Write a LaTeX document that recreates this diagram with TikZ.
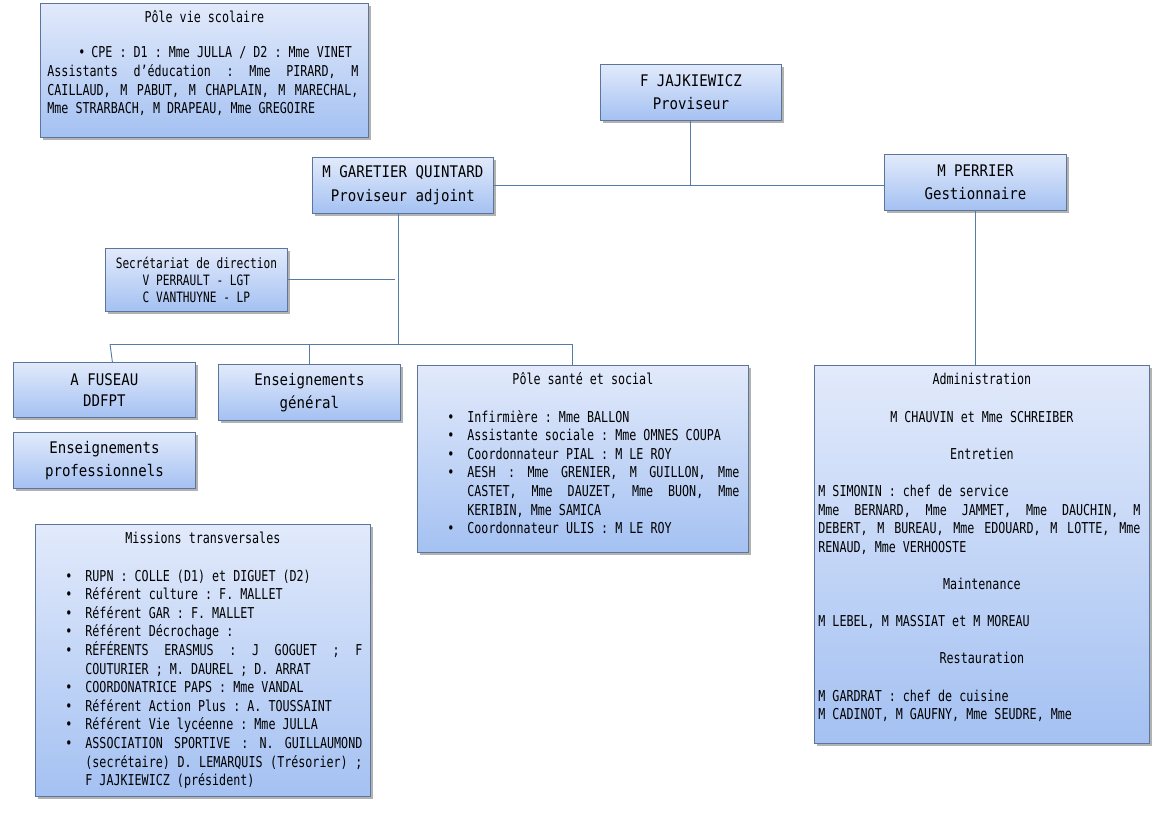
\documentclass[tikz,border=0pt]{standalone}
\usepackage{fontspec}
\usetikzlibrary{shadows}
\newfontfamily\corps[FakeStretch=0.78]{DejaVu Sans Mono}
\newfontfamily\titre[FakeStretch=0.88]{DejaVu Sans Mono}
\definecolor{fondHaut}{RGB}{226,234,251}
\definecolor{fondBas}{RGB}{164,193,242}
\definecolor{bordBleu}{RGB}{92,118,155}
\definecolor{lienBleu}{RGB}{84,124,168}
% boite a texte : largeur, hauteur, marge gauche, marge droite, contenu
\newcommand{\cadre}[5]{\parbox[t][#2][t]{#1}{\frenchspacing
  \spaceskip=\fontdimen2\font plus 2\fontdimen2\font minus .2\fontdimen2\font
  \leftskip=#3\rightskip=#4\relax\vspace*{6.5pt}#5}}
\newcommand{\puce}[2][24pt]{\par\hangindent=44pt\hangafter=1\noindent
  \hbox to 44pt{\hspace*{#1}\textbullet\hfil}#2\par}
\newcommand{\titrebloc}[1]{{\centering\strut #1\par}}
\newcommand{\blanc}{\vspace{\baselineskip}}
\tikzset{
  boite/.style={draw=bordBleu, line width=.8pt, top color=fondHaut, bottom color=fondBas,
    drop shadow={shadow xshift=2.5pt, shadow yshift=-2.5pt, fill=black, opacity=.3},
    inner sep=0pt, anchor=north west},
  bloc/.style={boite, font=\corps\fontsize{15}{18.6}\selectfont},
  chef/.style={boite, font=\titre\fontsize{16}{23.5}\selectfont, align=center,
    minimum width=182pt, minimum height=56pt},
  lien/.style={draw=lienBleu, line width=.9pt}
}
\begin{document}
\begin{tikzpicture}[x=1pt,y=-1pt]
\fill[white] (0,0) rectangle (1165,815);
\useasboundingbox (0,0) rectangle (1165,815);
% direction
\node[chef, minimum width=181pt] (prov) at (600,64) {F JAJKIEWICZ\\Proviseur};
\node[chef, minimum width=181pt] (adj) at (312,157) {M GARETIER QUINTARD\\Proviseur adjoint};
\node[chef] (perr) at (884,154) {M PERRIER\\Gestionnaire};
\node[boite, align=center, font=\corps\fontsize{14.3}{17}\selectfont,
  minimum width=182pt, minimum height=63pt] (secr) at (105,248)
  {Secrétariat de direction\\V PERRAULT - LGT\\C VANTHUYNE - LP};
% enseignements
\node[chef, minimum height=55pt, font=\titre\fontsize{16}{21.5}\selectfont] (fus) at (13,362) {A FUSEAU\\DDFPT};
\node[chef] (gen) at (218,364) {Enseignements\\général};
\node[chef] (pro) at (13,432) {Enseignements\\professionnels};
% poles
\node[bloc] (scol) at (40,3) {\cadre{328pt}{134pt}{7pt}{10pt}{%
  \titrebloc{Pôle vie scolaire}\vspace{16.4pt}
  \puce[31pt]{CPE : D1 : Mme JULLA / D2 : Mme VINET}
  Assistants d’éducation : Mme PIRARD, M\linebreak
  CAILLAUD, M PABUT, M CHAPLAIN, M MARECHAL,\linebreak
  Mme STRARBACH, M DRAPEAU, Mme GREGOIRE\par}};
\node[bloc] (sante) at (417,365) {\cadre{331pt}{187pt}{6pt}{9pt}{%
  \titrebloc{Pôle santé et social}\blanc
  \puce{Infirmière : Mme BALLON}
  \puce{Assistante sociale : Mme OMNES COUPA}
  \puce{Coordonnateur PIAL : M LE ROY}
  \puce{AESH : Mme GRENIER, M GUILLON, Mme\linebreak
    CASTET, Mme DAUZET, Mme BUON, Mme\linebreak KERIBIN, Mme SAMICA}
  \puce{Coordonnateur ULIS : M LE ROY}}};
\node[bloc] (admin) at (814,365) {\cadre{335pt}{378pt}{4pt}{9pt}{%
  \titrebloc{Administration}\blanc
  \titrebloc{M CHAUVIN et Mme SCHREIBER}\blanc
  \titrebloc{Entretien}\blanc
  M SIMONIN : chef de service\par
  Mme BERNARD, Mme JAMMET, Mme DAUCHIN, M\linebreak
  DEBERT, M BUREAU, Mme EDOUARD, M LOTTE, Mme\linebreak
  RENAUD, Mme VERHOOSTE\par\blanc
  \titrebloc{Maintenance}\blanc
  M LEBEL, M MASSIAT et M MOREAU\par\blanc
  \titrebloc{Restauration}\blanc
  M GARDRAT : chef de cuisine\par
  M CADINOT, M GAUFNY, Mme SEUDRE, Mme\par}};
\node[bloc] (miss) at (35,524) {\cadre{335pt}{272pt}{6pt}{8pt}{%
  \titrebloc{Missions transversales}\blanc
  \puce{RUPN : COLLE (D1) et DIGUET (D2)}
  \puce{Référent culture : F. MALLET}
  \puce{Référent GAR : F. MALLET}
  \puce{Référent Décrochage :}
  \puce{RÉFÉRENTS ERASMUS : J GOGUET ; F\linebreak COUTURIER ; M. DAUREL ; D. ARRAT}
  \puce{COORDONATRICE PAPS : Mme VANDAL}
  \puce{Référent Action Plus : A. TOUSSAINT}
  \puce{Référent Vie lycéenne : Mme JULLA}
  \puce{ASSOCIATION SPORTIVE : N. GUILLAUMOND\linebreak
    (secrétaire) D. LEMARQUIS (Trésorier) ;\linebreak F JAJKIEWICZ (président)}}};
% liaisons
\coordinate (barreG) at (110,344);
\coordinate (barreD) at (572,344);
\coordinate (finSecr) at (395,277);
\draw[lien] (prov.south) -- (prov.south |- adj.east);
\draw[lien] (adj.east) -- (adj.east -| perr.west);
\draw[lien] ([xshift=-4pt]adj.south) -- ([xshift=-4pt]adj.south |- barreG);
\draw[lien] (barreG) -- (barreD);
\draw[lien] (barreG) -- ([xshift=8pt]fus.north);
\draw[lien] (gen.north |- barreG) -- (gen.north);
\draw[lien] (barreD) -- (barreD |- sante.north);
\draw[lien] (secr.east) -- (secr.east -| finSecr);
\draw[lien] (perr.south) -- (perr.south |- admin.north);
\end{tikzpicture}
\end{document}
